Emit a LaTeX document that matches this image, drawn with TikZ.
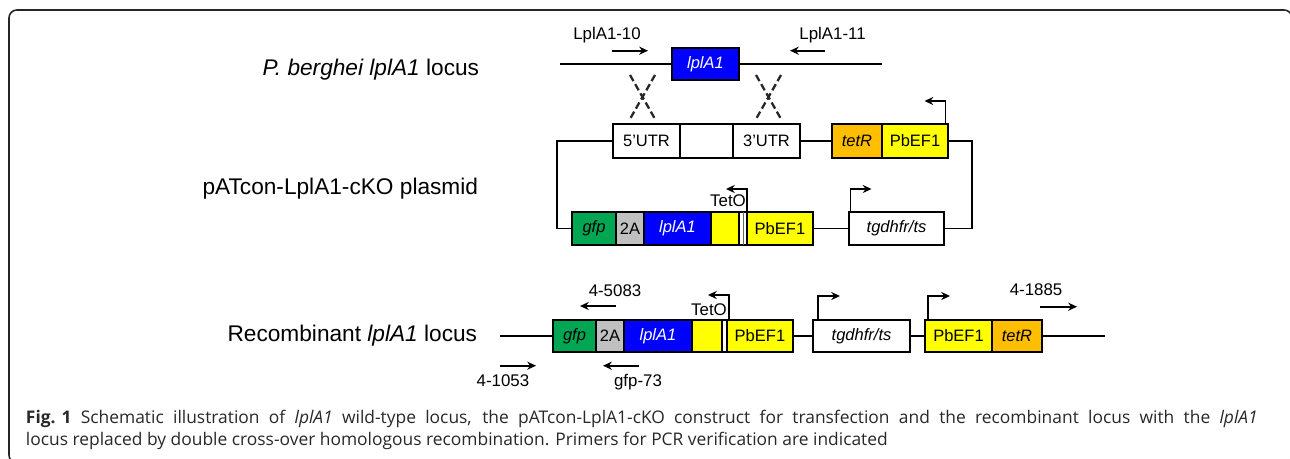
\documentclass[tikz,border=0pt]{standalone}
\usepackage{fontspec}
\setmainfont{Liberation Sans}
\newfontfamily\capfont{Open Sans}
\usetikzlibrary{positioning,calc,arrows.meta}
\definecolor{gfpgreen}{RGB}{0,166,81}
\definecolor{twoagray}{RGB}{192,192,192}
\definecolor{geneblue}{RGB}{0,0,255}
\definecolor{tetorange}{RGB}{255,190,0}
\definecolor{prmyellow}{RGB}{255,255,0}
\definecolor{captext}{RGB}{40,40,40}
\newcommand{\genefont}{\fontsize{9.4}{11}\selectfont}

\begin{document}
\begin{tikzpicture}[x=0.02cm, y=-0.02cm, >={Stealth[length=5pt,width=4.6pt]}, line width=1.1pt]
		\tikzstyle{gene}=[draw=black, line width=1.1pt, outer sep=0pt, inner sep=0pt, minimum height=0.66cm, font=\genefont]
		\tikzstyle{rowlabel}=[font=\fontsize{12.9}{15}\selectfont, inner sep=0pt, anchor=east]
		\tikzstyle{primer}=[font=\fontsize{9.6}{11}\selectfont, inner sep=0pt, anchor=base]
		\tikzstyle{cross}=[line width=1.3pt, black!85, dash pattern=on 4pt off 2pt]
		\tikzstyle{prom}=[->, line width=1.1pt]
		\tikzstyle{caption}=[anchor=base west, inner sep=0pt, text=captext, font=\capfont\fontsize{9.9}{12}\selectfont]
		\useasboundingbox (0,0) rectangle (1290,459);
		\draw[line width=0.9pt, black!85, rounded corners=4.5pt] (9,10) rectangle (1292,463);

		% wild-type locus
		\node[rowlabel] (wtlab) at (480,70) {\textit{P. berghei lplA1} locus};
		\coordinate (wtL) at (560,64); \coordinate (wtR) at (882,64);
		\node[gene, fill=geneblue, text=white, minimum width=1.34cm, minimum height=0.64cm] (wtgene) at (705.5,64) {\textit{lplA1}};
		\draw (wtL) -- (wtgene) -- (wtR);
		\node[primer] (p10) at (607,40) {LplA1-10}; \node[primer] (p11) at (832.5,40) {LplA1-11};
		\coordinate (p10a) at (612,50.7); \coordinate (p10b) at (648,50.7);
		\coordinate (p11a) at (825,50.7); \coordinate (p11b) at (790,50.7);
		\draw[->] (p10a) -- (p10b); \draw[->] (p11a) -- (p11b);
		\draw[cross] (630,75) -- (655,119) (655,75) -- (630,119);
		\draw[cross] (756,75) -- (781,119) (781,75) -- (756,119);

		% plasmid
		\node[rowlabel] (pllab) at (479,189) {pATcon-LplA1-cKO plasmid};
		\node[gene, minimum width=1.34cm, minimum height=0.68cm] (utr5) at (646.5,141) {5'UTR};
		\node[gene, minimum width=1.06cm, minimum height=0.68cm, right=0pt of utr5] (homP) {};
		\node[gene, minimum width=1.34cm, minimum height=0.68cm, right=0pt of homP] (utr3) {3'UTR};
		\node[gene, fill=tetorange, minimum width=1.0cm, minimum height=0.68cm] (tetP) at (857,141) {\textit{tetR}};
		\node[gene, fill=prmyellow, minimum width=1.32cm, minimum height=0.68cm, right=0pt of tetP] (pbP1) {PbEF1};
		\node[gene, fill=gfpgreen, minimum width=0.88cm] (gfpP) at (594,228.5) {\textit{gfp}};
		\node[gene, fill=twoagray, minimum width=0.56cm, right=0pt of gfpP] (twoaP) {2A};
		\node[gene, fill=geneblue, text=white, minimum width=1.34cm, right=0pt of twoaP] (lplP) {\textit{lplA1}};
		\node[gene, fill=prmyellow, minimum width=0.56cm, right=0pt of lplP] (yelP) {};
		\node[gene, fill=white, minimum width=0.16cm, right=0pt of yelP] (tetoP) {};
		\node[gene, fill=prmyellow, minimum width=1.32cm, right=0pt of tetoP] (pbP2) {PbEF1};
		\node[gene, minimum width=1.9cm] (tgP) at (896.5,228.5) {\textit{tgdhfr/ts}};
		\draw[line width=0.5pt, black!60] (tetoP.north) -- (tetoP.south);
		\draw (utr3) -- (tetP); \draw (pbP2) -- (tgP);
		\draw (utr5.west) -- ++(-56,0) |- (gfpP.west);
		\draw (pbP1.east) -- ++(24,0) |- (tgP.east);
		\node[primer] (tetolabP) at (728,207) {TetO};
		\draw[prom] ($(pbP1.north east)+(-2.5,0)$) -- ++(0,-23) -- ++(-21,0);
		\draw[prom] (pbP2.north west) -- ++(0,-23) -- ++(-21,0);
		\draw[prom] ($(tgP.north west)+(1.5,0)$) -- ++(0,-23) -- ++(21,0);

		% recombinant locus
		\node[rowlabel] (reclab) at (478,336) {Recombinant \textit{lplA1} locus};
		\coordinate (recL) at (500,336); \coordinate (recR) at (1105,336);
		\node[gene, fill=gfpgreen, minimum width=0.86cm, minimum height=0.64cm] (gfpR) at (574.5,336) {\textit{gfp}};
		\node[gene, fill=twoagray, minimum width=0.56cm, minimum height=0.64cm, right=0pt of gfpR] (twoaR) {2A};
		\node[gene, fill=geneblue, text=white, minimum width=1.36cm, minimum height=0.64cm, right=0pt of twoaR] (lplR) {\textit{lplA1}};
		\node[gene, fill=prmyellow, minimum width=0.6cm, minimum height=0.64cm, right=0pt of lplR] (yelR) {};
		\node[gene, fill=white, minimum width=0.1cm, minimum height=0.64cm, right=0pt of yelR] (tetoR) {};
		\node[gene, fill=prmyellow, minimum width=1.32cm, minimum height=0.64cm, right=0pt of tetoR] (pbR1) {PbEF1};
		\node[gene, minimum width=1.94cm, minimum height=0.64cm] (tgR) at (861.5,336) {\textit{tgdhfr/ts}};
		\node[gene, fill=prmyellow, minimum width=1.34cm, minimum height=0.64cm] (pbR2) at (958.5,336) {PbEF1};
		\node[gene, fill=tetorange, minimum width=1.0cm, minimum height=0.64cm, right=0pt of pbR2] (tetR3) {\textit{tetR}};
		\draw (recL) -- (gfpR); \draw (pbR1) -- (tgR) -- (pbR2); \draw (tetR3) -- (recR);
		\node[primer] (tetolabR) at (709,315) {TetO};
		\draw[prom] ($(pbR1.north west)+(2,0)$) -- ++(0,-25) -- ++(-21,0);
		\draw[prom] ($(tgR.north west)+(5,0)$) -- ++(0,-24) -- ++(22,0);
		\draw[prom] ($(pbR2.north west)+(3,0)$) -- ++(0,-24) -- ++(22,0);
		\node[primer] (p5083) at (615,296) {4-5083}; \node[primer] (p1885) at (1036,295) {4-1885};
		\node[primer] (p1053) at (503,386.7) {4-1053}; \node[primer] (p73) at (638,386.7) {gfp-73};
		\coordinate (p5083a) at (616,306); \coordinate (p5083b) at (580,306);
		\coordinate (p1885a) at (1040,306.7); \coordinate (p1885b) at (1077,306.7);
		\coordinate (p1053a) at (500,365.7); \coordinate (p1053b) at (536,365.7);
		\coordinate (p73a) at (639,365.7); \coordinate (p73b) at (603,365.7);
		\draw[->] (p5083a) -- (p5083b); \draw[->] (p1885a) -- (p1885b);
		\draw[->] (p1053a) -- (p1053b); \draw[->] (p73a) -- (p73b);

		% caption
		\node[caption] (cap1) at (25,423) {\makebox[24.64cm][s]{\mbox{\textbf{Fig. 1}} Schematic illustration of \textit{lplA1} wild-type locus, the pATcon-LplA1-cKO construct for transfection and the recombinant locus with the \textit{lplA1}}};
		\node[caption] (cap2) at (25,445) {locus replaced by double cross-over homologous recombination. Primers for PCR verification are indicated};
	\end{tikzpicture}
\end{document}
